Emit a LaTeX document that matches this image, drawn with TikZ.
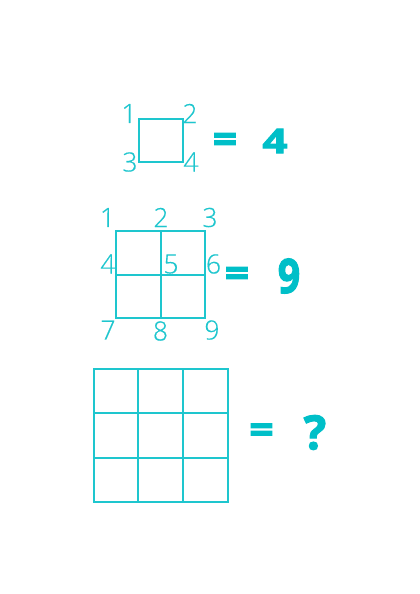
\documentclass[tikz,border=0pt]{standalone}
\usepackage{fontspec}
\setmainfont{Open Sans}
\newfontfamily\lightfont[FakeBold=0.4]{Open Sans Light}
\newfontfamily\heavyfont[BoldFeatures={FakeBold=2.5}]{Open Sans}
\definecolor{teal1}{HTML}{1EC6CE}
\definecolor{teal2}{HTML}{00BFC8}
\tikzset{
  num/.style={inner sep=0pt, text=teal1, font=\lightfont\fontsize{26.5}{26.5}\selectfont},
  big/.style={inner sep=0pt, text=teal2, font=\heavyfont\bfseries\fontsize{34}{34}\selectfont},
  eqsign/.style={big, xscale=1.25, yscale=1.15},
  thinline/.style={draw=teal1, line width=1.3pt},
  thickline/.style={draw=teal1, line width=2pt},
}
\begin{document}
\begin{tikzpicture}[x=1pt,y=-1pt]
\useasboundingbox[fill=white] (0,0) rectangle (420,594);
% --- square 1
\coordinate (s1a) at (139,119);
\coordinate (s1b) at (183,162);
\draw[thinline] (s1a) rectangle (s1b);
\node[num] (l1a) at (129,113.5) {1};
\node[num] (l1b) at (190,113.5) {2};
\node[num] (l1c) at (130,162) {3};
\node[num] (l1d) at (191,162) {4};
\node[eqsign] (e1) at (225,143) {=};
\node[big, xscale=1.3] (r1) at (275,141) {4};
% --- square 2
\coordinate (s2a) at (116,231);
\coordinate (s2b) at (205,318);
\coordinate (s2t) at (160.5,231);
\coordinate (s2u) at (160.5,318);
\coordinate (s2l) at (116,275);
\coordinate (s2r) at (205,275);
\draw[thinline] (s2a) rectangle (s2b);
\draw[thickline] (s2t) -- (s2u);
\draw[thickline] (s2l) -- (s2r);
\node[num] (l2a) at (107.5,217.5) {1};
\node[num] (l2b) at (161,217.5) {2};
\node[num] (l2c) at (210,217.5) {3};
\node[num] (l2d) at (108,264) {4};
\node[num] (l2e) at (171,264) {5};
\node[num] (l2f) at (213.5,264) {6};
\node[num] (l2g) at (108,330) {7};
\node[num] (l2h) at (160.5,331) {8};
\node[num] (l2i) at (212,330) {9};
\node[eqsign] (e2) at (237,277) {=};
\node[big, yscale=1.4, xscale=1.15] (r2) at (289,276) {9};
% --- square 3
\coordinate (s3a) at (93.5,369);
\coordinate (s3b) at (227.5,502);
\draw[thickline] (s3a) rectangle (s3b);
\coordinate (v1t) at (138.3,369);
\coordinate (v1b) at (138.3,502);
\coordinate (v2t) at (183.3,369);
\coordinate (v2b) at (183.3,502);
\coordinate (h1l) at (93.5,413);
\coordinate (h1r) at (227.5,413);
\coordinate (h2l) at (93.5,458);
\coordinate (h2r) at (227.5,458);
\draw[thickline] (v1t) -- (v1b);
\draw[thickline] (v2t) -- (v2b);
\draw[thickline] (h1l) -- (h1r);
\draw[thickline] (h2l) -- (h2r);
\node[eqsign] (e3) at (261.5,433.5) {=};
\node[big, font=\heavyfont\bfseries\fontsize{47}{47}\selectfont] (r3) at (315,432.5) {?};
\end{tikzpicture}
\end{document}
